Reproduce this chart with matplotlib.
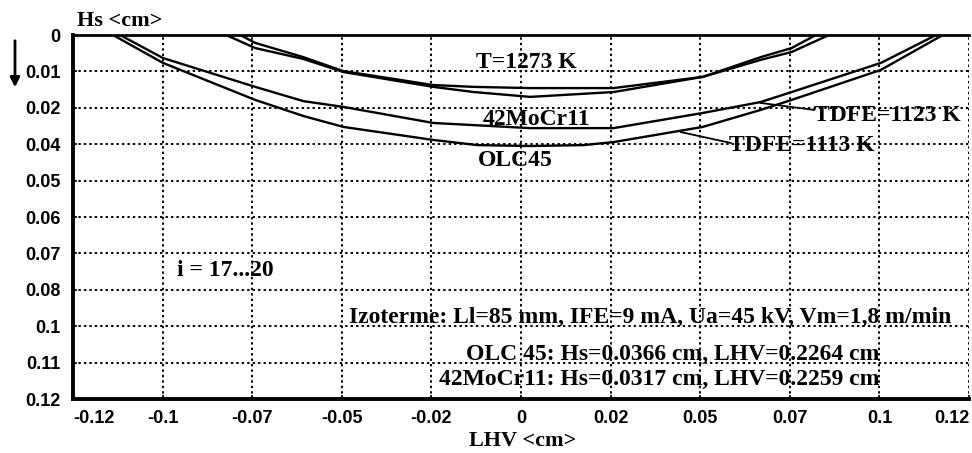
import numpy as np
import matplotlib
matplotlib.use("Agg")
import matplotlib.pyplot as plt

# ---- data ----
# T = 1273 K isotherms
lhv_t_olc = [-0.0790, -0.0712, -0.0583, -0.0476, -0.0235, -0.0127, 0.0025, 0.0248, 0.0487, 0.0642, 0.0725, 0.0825]
hs_t_olc = [0.0, 0.0043, 0.0079, 0.0122, 0.0171, 0.0188, 0.0204, 0.0188, 0.0138, 0.0082, 0.0056, 0.0]
lhv_t_mo = [-0.0752, -0.0712, -0.0583, -0.0476, -0.0235, -0.0127, 0.0025, 0.0248, 0.0487, 0.0642, 0.0725, 0.0790]
hs_t_mo = [0.0, 0.0026, 0.0073, 0.0119, 0.0165, 0.0171, 0.0175, 0.0175, 0.0138, 0.0073, 0.0043, 0.0]
# TDFE isotherms
lhv_mo = [-0.1074, -0.0959, -0.0712, -0.0583, -0.0476, -0.0235, 0.0025, 0.0248, 0.0487, 0.0642, 0.0725, 0.0964, 0.1112]
hs_mo = [0.0, 0.0076, 0.0171, 0.0218, 0.0237, 0.0290, 0.0307, 0.0307, 0.0257, 0.0221, 0.0188, 0.0092, 0.0]
lhv_olc = [-0.1093, -0.0959, -0.0712, -0.0583, -0.0476, -0.0235, -0.0117, 0.0025, 0.0168, 0.0248, 0.0487, 0.0642, 0.0725, 0.0964, 0.1130]
hs_olc = [0.0, 0.0092, 0.0214, 0.0267, 0.0303, 0.0346, 0.0363, 0.0366, 0.0363, 0.0353, 0.0303, 0.0247, 0.0214, 0.0115, 0.0]

x_ticks = [-0.12, -0.096, -0.072, -0.048, -0.024, 0.0, 0.024, 0.048, 0.072, 0.096, 0.12]
x_labels = ["-0.12", "-0.1", "-0.07", "-0.05", "-0.02", "0", "0.02", "0.05", "0.07", "0.1", "0.12"]
y_ticks = [0.0, 0.012, 0.024, 0.036, 0.048, 0.06, 0.072, 0.084, 0.096, 0.108, 0.12]
y_labels = ["0", "0.01", "0.02", "0.04", "0.05", "0.06", "0.07", "0.08", "0.1", "0.11", "0.12"]

SERIF = ["Liberation Serif", "DejaVu Serif"]
SANS = ["Liberation Sans", "DejaVu Sans"]

fig = plt.figure(figsize=(9.72, 4.53), dpi=100)
ax = fig.add_axes([73 / 972, 1 - 399 / 453, (969 - 73) / 972, (399 - 35) / 453])

for xs, ys in [(lhv_t_olc, hs_t_olc), (lhv_t_mo, hs_t_mo), (lhv_mo, hs_mo), (lhv_olc, hs_olc)]:
    ax.plot(xs, ys, color="black", lw=1.7, solid_joinstyle="round")

ax.set_xlim(-0.12, 0.12)
ax.set_ylim(0.12, 0.0)
ax.set_xticks(x_ticks)
ax.set_xticklabels(x_labels, fontfamily=SANS, fontweight="bold", fontsize=13)
ax.set_yticks(y_ticks)
ax.set_yticklabels(y_labels, fontfamily=SANS, fontweight="bold", fontsize=13)
xl = ax.get_xticklabels()
xl[0].set_horizontalalignment("left")
xl[-1].set_horizontalalignment("right")
ax.tick_params(direction="in", length=3, width=1.2, pad=8)
ax.tick_params(axis="y", pad=9)
ax.grid(True, color="black", linestyle=(0, (1.2, 1.6)), linewidth=1.4)
ax.set_axisbelow(True)
ax.spines["left"].set_linewidth(2.8)
ax.spines["bottom"].set_linewidth(2.8)
ax.spines["top"].set_linewidth(2.0)
ax.spines["right"].set_visible(False)

tk = dict(fontfamily=SERIF, fontweight="bold", color="black")
ax.text(0.0015, 0.0092, "T=1273 K", ha="center", va="center", fontsize=17, **tk)
ax.text(0.0042, 0.0277, "42MoCr11", ha="center", va="center", fontsize=17, **tk)
ax.text(-0.0015, 0.0415, "OLC45", ha="center", va="center", fontsize=17, **tk)
ax.text(0.0784, 0.0267, "TDFE=1123 K", ha="left", va="center", fontsize=17, **tk)
ax.text(0.0556, 0.0363, "TDFE=1113 K", ha="left", va="center", fontsize=17, **tk)
ax.plot([0.0642, 0.0785], [0.0224, 0.0247], color="black", lw=1.3)
ax.plot([0.0428, 0.0562], [0.0320, 0.0356], color="black", lw=1.3)
ax.text(-0.0921, 0.0778, "i = 17...20", ha="left", va="center", fontsize=17, **tk)
ax.text(0.1152, 0.0930, "Izoterme: Ll=85 mm, IFE=9 mA, Ua=45 kV, Vm=1,8 m/min",
        ha="right", va="center", fontsize=17, **tk)
ax.text(0.0959, 0.1052, "OLC 45: Hs=0.0366 cm, LHV=0.2264 cm",
        ha="right", va="center", fontsize=17, **tk)
ax.text(0.0959, 0.1137, "42MoCr11: Hs=0.0317 cm, LHV=0.2259 cm",
        ha="right", va="center", fontsize=17, **tk)

fig.text(77 / 972, 1 - 21 / 453, "Hs <cm>", ha="left", va="center", fontsize=16, **tk)
fig.text(523 / 972, 1 - 441 / 453, "LHV <cm>", ha="center", va="center", fontsize=16, **tk)
fig.add_artist(matplotlib.patches.FancyArrowPatch((15 / 972, 1 - 38 / 453), (15 / 972, 1 - 90 / 453),
               transform=fig.transFigure, arrowstyle="-|>", mutation_scale=14, lw=2, color="black"))

fig.savefig("out.png", dpi=100)
